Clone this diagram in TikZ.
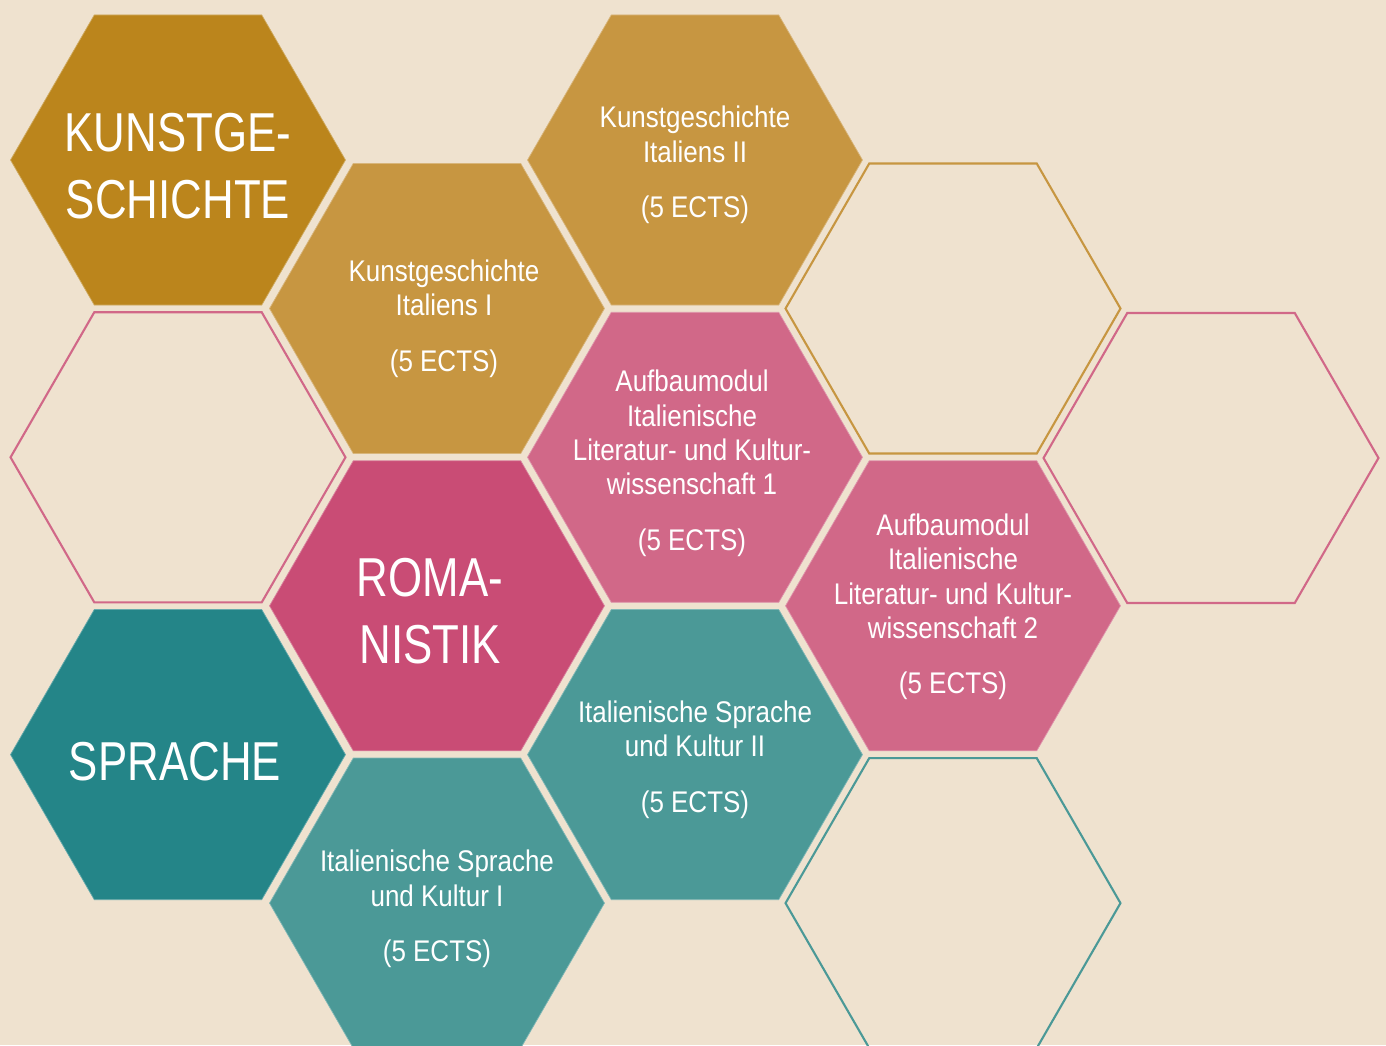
\documentclass[tikz,border=0pt]{standalone}
\usepackage{fontspec}
\setmainfont{Liberation Sans}
\newfontfamily\smallhex[FakeStretch=0.87]{Liberation Sans}
\newfontfamily\bighex[FakeStretch=0.80]{Liberation Sans}
\usetikzlibrary{shapes.geometric, positioning}
\definecolor{bg}{HTML}{EFE2CF}
\definecolor{golddark}{HTML}{BB851C}
\definecolor{goldlight}{HTML}{C79641}
\definecolor{pinkdark}{HTML}{C94C75}
\definecolor{pinklight}{HTML}{D16888}
\definecolor{tealdark}{HTML}{248588}
\definecolor{teallight}{HTML}{4B9997}
\tikzstyle{hex} = [regular polygon, regular polygon sides=6, minimum size=6.7cm, inner sep=0pt, outer sep=0pt]
\tikzset{cell/.style={hex, fill=#1, draw=#1!70!white, line width=0.4pt},
	hole/.style={hex, draw=#1, line width=1.2pt}}
\tikzstyle{txt} = [text=white, align=center, font=\smallhex\fontsize{17}{19.6}\selectfont]
\tikzstyle{bigtxt} = [text=white, align=center, font=\bighex\fontsize{31.2}{38}\selectfont]

\begin{document}
\begin{tikzpicture}[x=0.02cm, y=-0.02cm, node distance=0.144cm]
	\fill[bg] (0,0) rectangle (1386,1045);
	\clip (0,0) rectangle (1386,1045);
	
	%column 1
	\node[cell=golddark] (kunst) at (178,160) {};
	\node[hole=pinklight, below=of kunst] (leer1) {};
	\node[cell=tealdark, below=of leer1] (sprache) {};
	%column 2
	\node[cell=goldlight] (kgI) at (437,308.5) {};
	\node[cell=pinkdark, below=of kgI] (roma) {};
	\node[cell=teallight, below=of roma] (ispI) {};
	%column 3
	\node[cell=goldlight] (kgII) at (695,160) {};
	\node[cell=pinklight, below=of kgII] (aufbI) {};
	\node[cell=teallight, below=of aufbI] (ispII) {};
	%column 4
	\node[hole=goldlight] (leer2) at (953,308.5) {};
	\node[cell=pinklight, below=of leer2] (aufbII) {};
	\node[hole=teallight, below=of aufbII] (leer3) {};
	%column 5
	\node[hole=pinklight] (leer4) at (1211,458) {};
	
	%texts
	\node[bigtxt] (t-kunst) at ([yshift=-0.12cm]kunst) {KUNSTGE-\\SCHICHTE};
	\node[bigtxt] (t-roma) at ([xshift=-0.14cm, yshift=-0.1cm]roma) {ROMA-\\NISTIK};
	\node[bigtxt] (t-sprache) at ([xshift=-0.06cm, yshift=-0.14cm]sprache) {SPRACHE};
	\node[txt] (t-kgI) at ([xshift=0.14cm, yshift=-0.2cm]kgI) {Kunstgeschichte\\Italiens I\\[12pt](5 ECTS)};
	\node[txt] (t-kgII) at ([yshift=-0.1cm]kgII) {Kunstgeschichte\\Italiens II\\[12pt](5 ECTS)};
	\node[txt] (t-aufbI) at ([xshift=-0.06cm, yshift=-0.12cm]aufbI) {Aufbaumodul\\Italienische\\Literatur- und Kultur-\\wissenschaft 1\\[12pt](5 ECTS)};
	\node[txt] (t-aufbII) at ([yshift=-0.02cm]aufbII) {Aufbaumodul\\Italienische\\Literatur- und Kultur-\\wissenschaft 2\\[12pt](5 ECTS)};
	\node[txt] (t-ispI) at ([yshift=-0.12cm]ispI) {Italienische Sprache\\und Kultur I\\[12pt](5 ECTS)};
	\node[txt] (t-ispII) at ([yshift=-0.1cm]ispII) {Italienische Sprache\\und Kultur II\\[12pt](5 ECTS)};
\end{tikzpicture}
\end{document}
